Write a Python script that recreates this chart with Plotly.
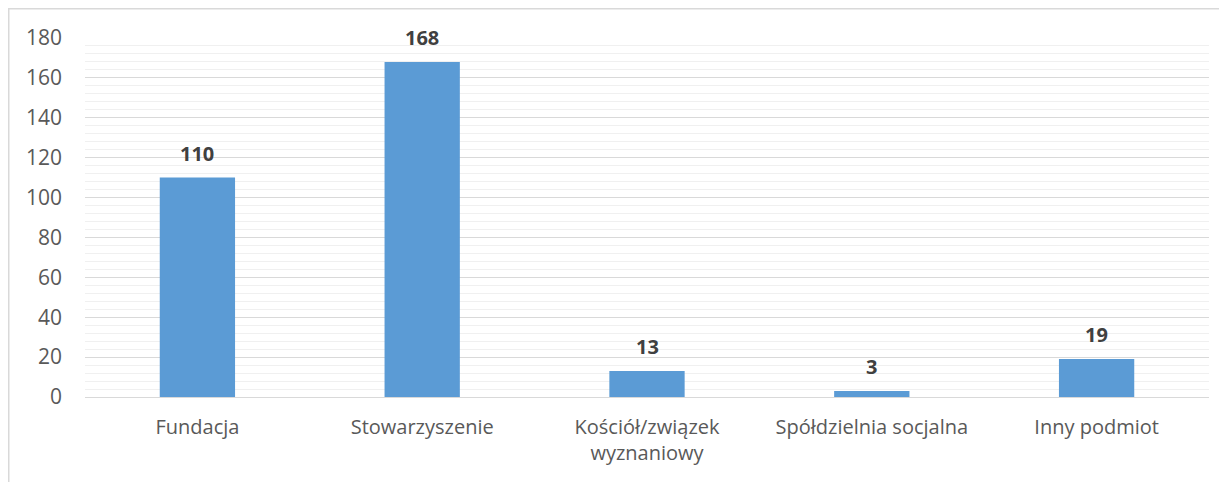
import plotly.graph_objects as go

categories = ["Fundacja", "Stowarzyszenie", "Kościół/związek<br>wyznaniowy", "Spółdzielnia socjalna", "Inny podmiot"]
values = [110, 168, 13, 3, 19]
y_ticks = [0, 20, 40, 60, 80, 100, 120, 140, 160, 180]

FONT = "Open Sans, Liberation Sans, sans-serif"

# page body has an 8px margin, so the figure is offset by (8, 8)
W, H = 1219, 474

fig = go.Figure()
fig.add_trace(go.Bar(
    x=categories, y=values,
    marker=dict(color="#5B9BD5", line=dict(width=0)),
    width=0.335,
    hoverinfo="x+y",
))

for c, v in zip(categories, values):
    fig.add_annotation(x=c, y=v, text=f"<b>{v}</b>", showarrow=False,
                       yanchor="bottom", yshift=9,
                       font=dict(family=FONT, size=20, color="#404040"))

fig.update_layout(
    width=W, height=H,
    margin=dict(l=77, r=18, t=30, b=85),
    paper_bgcolor="white", plot_bgcolor="white",
    showlegend=False,
    font=dict(family=FONT, size=20, color="#595959"),
    xaxis=dict(showgrid=False, showline=False, ticks="", tickfont=dict(size=20, color="#595959"),
               automargin=False, ticklabelstandoff=16, fixedrange=True),
    yaxis=dict(range=[0, 180], tickvals=y_ticks, showgrid=True, gridcolor="#D9D9D9", gridwidth=1,
               zeroline=True, zerolinecolor="#D9D9D9", zerolinewidth=1,
               minor=dict(dtick=4, showgrid=True, gridcolor="#F0F0F0", gridwidth=1, tick0=0),
               ticks="", tickfont=dict(size=21, color="#595959"), ticklabelstandoff=22,
               automargin=False, fixedrange=True),
)

fig.add_shape(type="rect", xref="paper", yref="paper",
              x0=(0.75 - 77) / (W - 95), x1=(W + 5 - 77) / (W - 95),
              y0=-0.3, y1=1 + (30 - 0.75) / (H - 115),
              line=dict(color="#D9D9D9", width=1.5), fillcolor="rgba(0,0,0,0)", layer="below")

fig.write_html("out.html")
